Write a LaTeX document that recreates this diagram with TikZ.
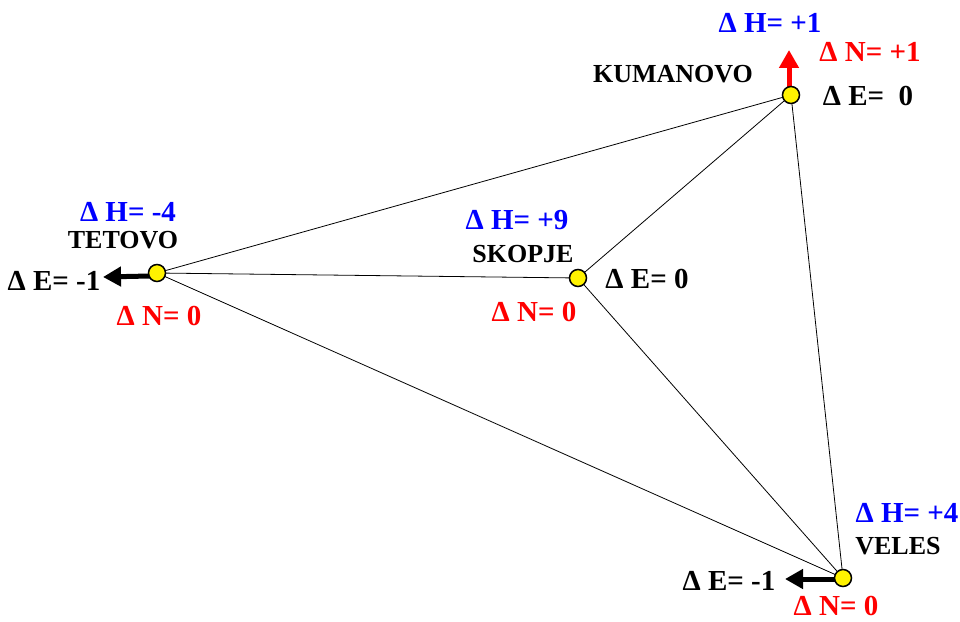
\documentclass[tikz,border=0pt]{standalone}
\usepackage{fontspec}
\setmainfont{Liberation Serif}
\usetikzlibrary{arrows.meta}
\definecolor{dblue}{RGB}{0,0,255}
\definecolor{dred}{RGB}{255,0,0}
\begin{document}
\begin{tikzpicture}[x=1bp,y=-1bp,
  town/.style={circle,draw=black,line width=1.5bp,fill=yellow,minimum size=17bp,inner sep=0pt},
  hlab/.style={text=dblue,font=\fontsize{29bp}{31bp}\selectfont\bfseries,inner sep=0pt},
  nlab/.style={text=dred,font=\fontsize{29bp}{31bp}\selectfont\bfseries,inner sep=0pt},
  elab/.style={text=black,font=\fontsize{29bp}{31bp}\selectfont\bfseries,inner sep=0pt},
  clab/.style={text=black,font=\fontsize{26bp}{28bp}\selectfont\bfseries,inner sep=0pt},
  edge/.style={draw=black,line width=0.8bp},
  movearrow/.style={line width=5bp,-{Triangle[length=18bp,width=19bp]}}]
\useasboundingbox (0,0) rectangle (960,622);
% nodes positions
\coordinate (ku) at (791,95);
\coordinate (te) at (157,273);
\coordinate (sk) at (578,278);
\coordinate (ve) at (843,578);
% edges
\draw[edge] (te) -- (ku);
\draw[edge] (te) -- (sk);
\draw[edge] (te) -- (ve);
\draw[edge] (sk) -- (ku);
\draw[edge] (sk) -- (ve);
\draw[edge] (ku) -- (ve);
% arrows
\coordinate (kuS) at (789,89);
\coordinate (teS) at (150,276);
\coordinate (veS) at (836,579);
\coordinate (kuA) at (789,50);
\coordinate (teA) at (103,277);
\coordinate (veA) at (785,579);
\draw[movearrow,draw=dred,fill=dred] (kuS) -- (kuA);
\draw[movearrow,draw=black,fill=black] (teS) -- (teA);
\draw[movearrow,draw=black,fill=black] (veS) -- (veA);
% circles
\node[town] (KU) at (ku) {};
\node[town] (TE) at (te) {};
\node[town] (SK) at (sk) {};
\node[town] (VE) at (ve) {};
% Kumanovo labels
\node[hlab] (kuH) at (770,23) {Δ H= +1};
\node[nlab] (kuN) at (870,52) {Δ N= +1};
\node[clab] (kuC) at (673,74) {KUMANOVO};
\node[elab] (kuE) at (868,96) {Δ E=\ \ 0};
% Tetovo labels
\node[hlab] (teH) at (128,212) {Δ H= -4};
\node[clab] (teC) at (123,240) {TETOVO};
\node[elab] (teE) at (54,281) {Δ E= -1};
\node[nlab] (teN) at (159,316) {Δ N= 0};
% Skopje labels
\node[hlab] (skH) at (517,220) {Δ H= +9};
\node[clab] (skC) at (523,254) {SKOPJE};
\node[elab] (skE) at (647,279) {Δ E= 0};
\node[nlab] (skN) at (534,312) {Δ N= 0};
% Veles labels
\node[hlab] (veH) at (907,513) {Δ H= +4};
\node[clab] (veC) at (898,546) {VELES};
\node[elab] (veE) at (729,581) {Δ E= -1};
\node[nlab] (veN) at (836,606) {Δ N= 0};
\end{tikzpicture}
\end{document}
